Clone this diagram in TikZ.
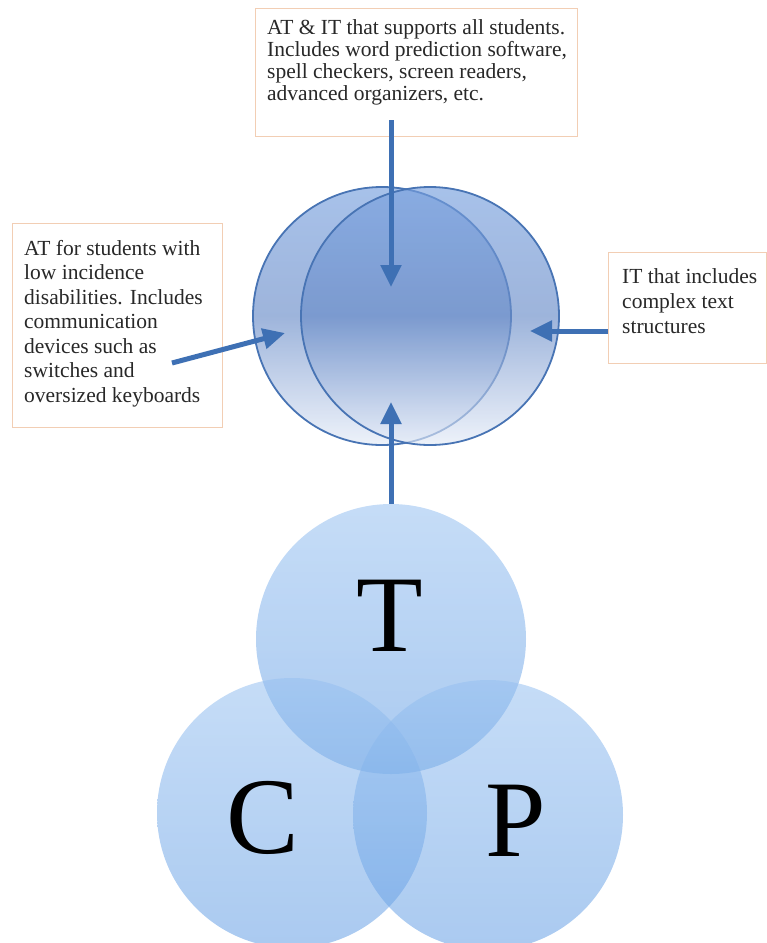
\documentclass[tikz,border=0pt]{standalone}
\usepackage{fontspec}
\setmainfont{Liberation Serif}
\usetikzlibrary{arrows.meta,positioning}

\definecolor{noteedge}{RGB}{242,206,180}
\definecolor{notetext}{RGB}{40,40,40}
\definecolor{linkblue}{RGB}{62,112,180}
\definecolor{ringblue}{RGB}{72,116,180}
\definecolor{ringtop}{RGB}{120,160,222}
\definecolor{ringmid}{RGB}{105,140,200}
\definecolor{ringbot}{RGB}{228,235,247}
\definecolor{tcptop}{RGB}{150,192,240}
\definecolor{tcpbot}{RGB}{100,158,228}
\newcommand\notesize{\fontsize{21.5}{22}\selectfont}

\tikzset{
  notebox/.style={draw=noteedge, line width=1.2pt, fill=white, inner sep=0pt, anchor=north west},
  note/.style={inner sep=0pt, align=left, text=notetext, font=\notesize},
  ring/.style={circle, draw=ringblue, line width=1.8pt, minimum size=258pt, inner sep=0pt,
    fill opacity=.65, top color=ringtop, bottom color=ringbot, middle color=ringmid},
  tcp/.style={circle, minimum size=270pt, inner sep=0pt, fill opacity=.55,
    top color=tcptop, bottom color=tcpbot},
  letter/.style={font=\fontsize{109}{109}\selectfont, inner sep=0pt},
  link/.style={draw=linkblue, line width=5pt, -{Triangle[length=22pt,width=20pt]}},
}

\begin{document}
\begin{tikzpicture}[x=1pt,y=-1pt]
\useasboundingbox (0,0) rectangle (767,943);

% the three notes
\node[notebox, minimum width=322pt, minimum height=128pt] (topbox) at (255,8) {};
\node[note, below right=11pt and 12pt of topbox.north west] (toptext)
  {AT \& IT that supports all students.\\
   Includes word prediction software,\\
   spell checkers, screen readers,\\
   advanced organizers, etc.};
\node[notebox, minimum width=210pt, minimum height=204pt] (leftbox) at (12,223) {};
\node[note, font=\fontsize{21.5}{24.5}\selectfont, below right=17pt and 12pt of leftbox.north west] (lefttext)
  {AT for students with\\
   low incidence\\
   disabilities. Includes\\
   communication\\
   devices such as\\
   switches and\\
   oversized keyboards};
\node[notebox, minimum width=158pt, minimum height=111pt] (rightbox) at (608,252) {};
\node[note, font=\fontsize{21.5}{25}\selectfont, below right=16pt and 14pt of rightbox.north west] (righttext)
  {IT that includes\\
   complex text\\
   structures};

% AT / IT circles
\node[ring] (atring) at (382,316) {};
\node[ring] (itring) at (430,316) {};

% T, C, P
\foreach \n/\x/\y in {tech/391/639,cont/292/813,ped/488/815}
  \node[tcp] (\n) at (\x,\y) {};
\foreach \n/\x/\y/\t in {tlet/390/616/T,clet/263/818/C,plet/516/821/P}
  \node[letter] (\n) at (\x,\y) {\t};

% arrows
\coordinate (downfoot) at (391,120);
\coordinate (downtip) at (391,287);
\coordinate (leftfoot) at (172,363);
\coordinate (lefttip) at (285,333);
\coordinate (righttip) at (530,331);
\coordinate (uptip) at (391,402);
\draw[link] (downfoot) -- (downtip);
\draw[link] (leftfoot) -- (lefttip);
\draw[link] (rightbox.west |- righttip) -- (righttip);
\draw[link] (tech.north) -- (uptip);
\end{tikzpicture}
\end{document}
